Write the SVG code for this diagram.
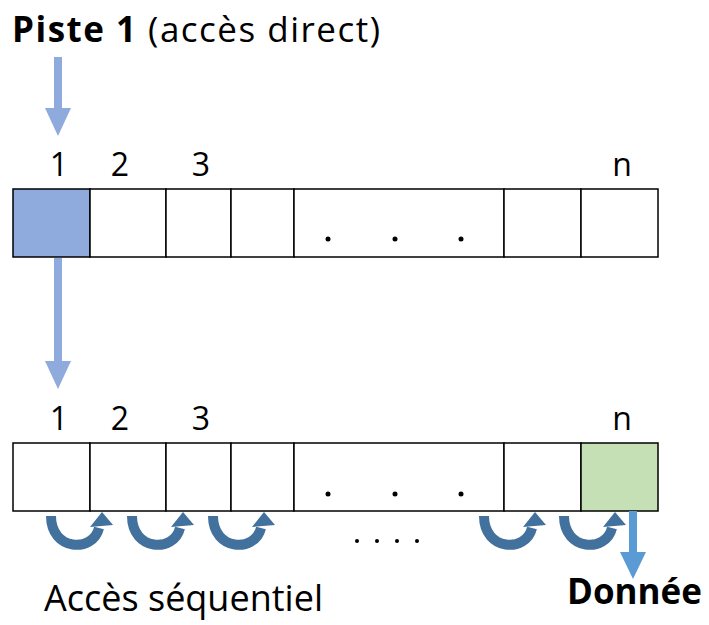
<svg xmlns="http://www.w3.org/2000/svg" xmlns:xlink="http://www.w3.org/1999/xlink" width="709" height="625" viewBox="0 0 709 625">
<style>
text{font-family:"Open Sans","Noto Sans","Liberation Sans",sans-serif;fill:#000}
.lbl{font-size:32px;text-anchor:middle}
.cell{fill:#fff;stroke:#000;stroke-width:1.5}
.dot{fill:#000}
.curve{fill:none;stroke:#41719c;stroke-width:10}
</style>
<defs>
<g id="curl">
<path class="curve" d="M51,516 C51,551 93,553 99,528"/>
<polygon points="102,512 113,525 90,527" fill="#41719c"/>
</g>
</defs>
<g id="title">
<text x="12" y="42" style="font-size:35px" textLength="368" lengthAdjust="spacing"><tspan font-weight="bold">Piste 1</tspan> (accès direct)</text>
</g>
<g id="row1">
<rect class="cell" x="13" y="189" width="77" height="68" style="fill:#8faadc"/>
<rect class="cell" x="90" y="189" width="76" height="68"/>
<rect class="cell" x="166" y="189" width="65" height="68"/>
<rect class="cell" x="231" y="189" width="63" height="68"/>
<rect class="cell" x="294" y="189" width="210" height="68"/>
<rect class="cell" x="504" y="189" width="77" height="68"/>
<rect class="cell" x="581" y="189" width="77" height="68"/>
<circle class="dot" cx="328" cy="239" r="2.5"/>
<circle class="dot" cx="395" cy="239" r="2.5"/>
<circle class="dot" cx="461" cy="239" r="2.5"/>
<text class="lbl" x="59" y="176">1</text>
<text class="lbl" x="120" y="176">2</text>
<text class="lbl" x="201" y="176">3</text>
<text class="lbl" x="622" y="176">n</text>
</g>
<g id="row2">
<rect class="cell" x="13" y="443" width="77" height="68"/>
<rect class="cell" x="90" y="443" width="76" height="68"/>
<rect class="cell" x="166" y="443" width="65" height="68"/>
<rect class="cell" x="231" y="443" width="63" height="68"/>
<rect class="cell" x="294" y="443" width="210" height="68"/>
<rect class="cell" x="504" y="443" width="77" height="68"/>
<rect class="cell" x="581" y="443" width="77" height="68" style="fill:#c5e0b4"/>
<circle class="dot" cx="328" cy="494" r="2.5"/>
<circle class="dot" cx="395" cy="494" r="2.5"/>
<circle class="dot" cx="461" cy="494" r="2.5"/>
<text class="lbl" x="59" y="430">1</text>
<text class="lbl" x="120" y="430">2</text>
<text class="lbl" x="201" y="430">3</text>
<text class="lbl" x="622" y="430">n</text>
</g>
<g id="connectors">
<rect x="54" y="57" width="8" height="52" fill="#8faadc"/>
<polygon points="45,108 71,108 58,136" fill="#8faadc"/>
<rect x="54" y="258" width="8" height="104" fill="#8faadc"/>
<polygon points="45,361 71,361 58,389" fill="#8faadc"/>
<use xlink:href="#curl" x="0" y="0"/>
<use xlink:href="#curl" x="81" y="0"/>
<use xlink:href="#curl" x="162" y="0"/>
<use xlink:href="#curl" x="433" y="0"/>
<use xlink:href="#curl" x="513" y="0"/>
<rect x="629" y="511" width="8" height="42" fill="#5b9bd5"/>
<polygon points="620,552 646,552 633,579" fill="#5b9bd5"/>
</g>
<g id="seqdots">
<circle class="dot" cx="357" cy="541" r="2"/>
<circle class="dot" cx="377" cy="541" r="2"/>
<circle class="dot" cx="397" cy="541" r="2"/>
<circle class="dot" cx="417" cy="541" r="2"/>
</g>
<g id="labels">
<text x="44" y="611" style="font-size:36px">Accès séquentiel</text>
<text x="567" y="604" style="font-size:35px;font-weight:bold">Donnée</text>
</g>
</svg>
